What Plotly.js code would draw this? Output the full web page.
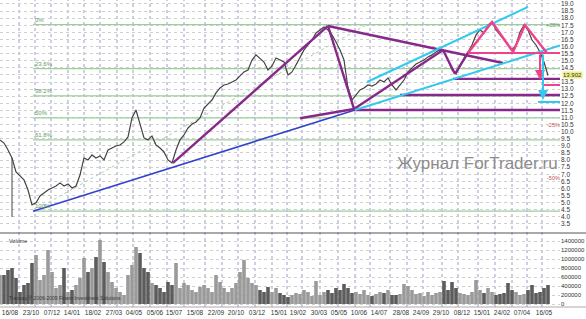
<!DOCTYPE html>
<html><head><meta charset="utf-8">
<script src="https://cdn.plot.ly/plotly-3.0.1.min.js"></script>
<style>html,body{margin:0;padding:0;background:#fff}#chart{width:586px;height:319px}</style>
</head><body><div id="chart"></div>
<script>
// ---- data ----
const closes = [9.42,9.20,8.71,8.15,7.16,6.88,6.60,5.89,4.84,4.98,5.47,5.68,5.89,6.03,6.17,6.39,6.17,6.32,6.03,6.17,
6.95,8.15,8.01,8.36,8.15,8.29,8.01,8.71,8.85,8.99,9.06,9.28,9.63,10.97,11.53,10.47,9.56,9.42,9.70,9.06,
8.85,8.57,8.01,7.80,8.71,9.42,9.77,10.26,10.54,10.68,10.97,11.67,11.95,12.23,12.73,13.08,13.29,13.36,13.50,13.64,
13.93,14.21,14.35,15.05,15.41,15.19,14.91,14.35,14.63,15.19,15.05,14.91,14.00,14.21,14.70,15.19,15.76,16.11,16.46,16.96,
17.17,17.38,17.17,16.82,16.32,15.76,15.05,13.08,12.23,12.59,12.94,13.08,13.29,13.22,13.36,13.64,13.50,13.79,13.29,12.94,
13.29,13.64,14.21,14.49,14.77,14.91,15.05,15.27,15.41,15.62,15.76,15.62,15.05,14.35,14.07,14.63,15.19,15.62,16.11,16.82,
17.17,16.96,17.52,17.73,17.17,16.82,16.46,16.11,15.76,16.11,17.03,17.52,17.17,16.46,16.11,15.62,14.91,13.96];
const volumesK = [644,644,756,800,578,267,422,467,911,1089,533,644,1200,711,356,422,800,267,311,422,
578,1022,711,800,1044,1422,933,711,489,356,267,200,644,867,1267,1133,800,711,467,422,
356,267,489,422,911,356,467,422,311,267,378,422,356,267,644,489,356,267,356,467,
711,978,578,467,422,311,267,378,267,356,244,200,156,200,244,222,311,267,178,511,
200,267,311,244,356,311,444,356,244,267,222,311,200,178,222,267,244,311,200,200,
222,444,400,311,222,244,178,267,200,244,267,511,311,489,356,244,222,200,267,533,
311,244,356,267,200,222,244,467,311,267,200,222,311,422,244,267,356,422];
const spikeBar = {day: 12, close: 8.15, low: 3.99};
const dateLabels = ["16/08","23/10","07/12","14/01","18/02","27/03","04/05","05/06","15/07","15/08","22/09","20/10","03/12","15/01",
"19/02","30/03","05/05","10/06","14/07","28/08","24/09","29/10","08/12","15/01","24/02","07/04","16/05"];
const dateLabelDays = [10,31,52,72,93,114,134,155,174,195,216,236,257,279,298,319,339,359,379,401,421,441,462,482,502,522,544];
const monthLineDays = [19,35,51,68,84,100,117,133,150,167,184,205,222,238,255,272,287,302,320,338,355,370,390,407,423,442,458,478,495,512,527,542];
const priceTickMin = 3.5, priceTickMax = 19.0, priceTickStep = 0.5, hiddenPriceTick = 14.0;
const fibHigh = 17.55, fibLow = 4.40;
const fibLevels = [0, 23.6, 38.2, 50, 61.8, 100];
const fibNames = ["0%","23.6%","38.2%","50%","61.8%","100%"];
const purpleSegs = [[173,7.80,328,17.45],[328,17.45,354,11.60],[328,17.45,503,14.84],[354,11.60,443,15.76],
  [443,15.76,455,14.07],[455,14.07,468,15.55],[300,10.95,354,11.60],[453,13.72,560,13.72],[400,12.59,560,12.59],[354,11.53,560,11.53]];
const pinkPath = {x:[468,492,513,525,547], y:[15.55,17.73,15.62,17.52,15.55]};
const pinkSegs = [[468,15.55,560,15.55],[543,13.29,560,13.29]];
const cyanSegs = [[355,11.53,560,16.07],[367,13.50,528,18.79],[538,12.09,560,12.09]];
const blueSeg = [33,4.40,355,11.53];
const fibTrend = [33,4.40,367,17.55];
const lastPrice = 13.96, lastPriceText = "13.902";

// ---- build ----
const days = closes.map((_, i) => i * 4);
const traces = [];
const seg = (s, color, width, dash) => ({type:'scatter', mode:'lines', x:[s[0],s[2]], y:[s[1],s[3]],
  line:{color:color, width:width, dash:dash||'solid'}, hoverinfo:'skip', showlegend:false, xaxis:'x', yaxis:'y'});
fibLevels.forEach(l => {
  const v = fibHigh - (fibHigh - fibLow) * l / 100;
  traces.push(seg([33, v, 560, v], '#9fcb9f', 1.2));
});
traces.push(seg(fibTrend, '#a8d0a8', 1, 'dot'));
traces.push({type:'scatter', mode:'lines', x:days, y:closes, line:{color:'#444', width:1.2},
  hoverinfo:'skip', showlegend:false});
traces.push({type:'scatter', mode:'lines', x:[spikeBar.day, spikeBar.day], y:[spikeBar.close, spikeBar.low],
  line:{color:'#444', width:1}, hoverinfo:'skip', showlegend:false});
traces.push(seg(blueSeg, '#3443cc', 1.6));
purpleSegs.forEach(s => traces.push(seg(s, '#87298a', 2.4)));
cyanSegs.forEach(s => traces.push(seg(s, '#33c8ee', 2)));
traces.push({type:'scatter', mode:'lines', x:pinkPath.x, y:pinkPath.y, line:{color:'#f0418c', width:2.4},
  hoverinfo:'skip', showlegend:false});
pinkSegs.forEach(s => traces.push(seg(s, '#f0418c', 2)));
const volColors = closes.map((c, i) => (i > 0 && c < closes[i-1]) ? '#5c5c5c' : '#9a9a9a');
traces.push({type:'bar', x:days, y:volumesK.map(v => v * 1000), xaxis:'x', yaxis:'y2',
  marker:{color:volColors, line:{width:0}}, hoverinfo:'skip', showlegend:false});

// price ticks (the 14.0 label is covered by the last-price box in the reference)
const pTickVals = [], pTickText = [];
for (let v = priceTickMin; v <= priceTickMax + 1e-9; v += priceTickStep) {
  pTickVals.push(v);
  pTickText.push(Math.abs(v - hiddenPriceTick) < 1e-9 ? '' : v.toFixed(1));
}

const shapes = monthLineDays.map(d => ({type:'line', xref:'x', yref:'paper', x0:d, x1:d, y0:0, y1:1,
  line:{color:'#9d9dc4', width:1, dash:'dot'}, layer:'below'}));
shapes.push({type:'line', xref:'paper', yref:'paper', x0:0, x1:586/560, y0:74/307, y1:74/307, line:{color:'#555', width:1}});
shapes.push({type:'line', xref:'paper', yref:'paper', x0:0, x1:586/560, y0:0, y1:0, line:{color:'#aaa', width:1}});

const ann = [];
fibLevels.forEach((l, i) => {
  const v = fibHigh - (fibHigh - fibLow) * l / 100;
  ann.push({x:33, y:v, xref:'x', yref:'y', text:fibNames[i], showarrow:false, xanchor:'left', yanchor:'bottom',
    font:{size:6, color:'#5f9a5f', family:'Liberation Sans'}});
});
ann.push({x:540, y:13.64, ax:540, ay:15.55, axref:'x', ayref:'y', xref:'x', yref:'y', text:'', showarrow:true,
  arrowhead:2, arrowsize:1, arrowwidth:2, arrowcolor:'#f0418c'});
ann.push({x:543, y:12.23, ax:543, ay:15.55, axref:'x', ayref:'y', xref:'x', yref:'y', text:'', showarrow:true,
  arrowhead:2, arrowsize:1, arrowwidth:2, arrowcolor:'#33c8ee'});
ann.push({x:477, y:7.75, xref:'x', yref:'y', text:'Журнал ForTrader.ru', showarrow:false,
  font:{size:17, color:'#8c8c8c', family:'Liberation Sans'}});
ann.push({x:553, y:17.5, xref:'x', yref:'y', text:'+25%', showarrow:false, xanchor:'center',
  font:{size:5.5, color:'#5f9a5f', family:'Liberation Sans'}});
ann.push({x:553, y:10.5, xref:'x', yref:'y', text:'-25%', showarrow:false, xanchor:'center',
  font:{size:5.5, color:'#c05050', family:'Liberation Sans'}});
ann.push({x:553, y:7.1, xref:'x', yref:'y', text:'-50%', showarrow:false, xanchor:'center', yanchor:'top',
  font:{size:5.5, color:'#c05050', family:'Liberation Sans'}});
ann.push({x:1.003, y:lastPrice, xref:'paper', yref:'y', text:lastPriceText, showarrow:false, xanchor:'left',
  bgcolor:'#eeee88', borderpad:0, font:{size:6, color:'#333', family:'Liberation Sans'}});
ann.push({x:0.012, y:0.232, xref:'paper', yref:'paper', text:'Volume', showarrow:false, xanchor:'left', yanchor:'top',
  font:{size:5.5, color:'#333', family:'Liberation Sans'}});
ann.push({x:0.012, y:0.012, xref:'paper', yref:'paper', text:'Transaq ® 2006-2009 Finam Investment Solutions', showarrow:false,
  xanchor:'left', yanchor:'bottom', font:{size:5, color:'#333', family:'Liberation Sans'}});

const layout = {
  width:586, height:319, margin:{l:0, r:26, t:0, b:12, pad:0},
  paper_bgcolor:'#fff', plot_bgcolor:'#fff', showlegend:false, bargap:0.1,
  xaxis:{range:[0,560], anchor:'y2', tickvals:dateLabelDays, ticktext:dateLabels, showgrid:false, zeroline:false,
    ticks:'', tickfont:{size:6.5, color:'#333', family:'Liberation Sans'}, fixedrange:true},
  yaxis:{domain:[75/307, 1], range:[2.93, 19.28], side:'right', tickmode:'array', tickvals:pTickVals, ticktext:pTickText,
    showgrid:true, gridcolor:'#cfcfcf', griddash:'dot', zeroline:false, ticks:'',
    tickfont:{size:6.5, color:'#333', family:'Liberation Sans'}},
  yaxis2:{domain:[0, 74/307], range:[-66667, 1577778], side:'right', dtick:200000, tick0:0, tickformat:'d',
    showgrid:true, gridcolor:'#cfcfcf', griddash:'dot', zeroline:false, ticks:'',
    tickfont:{size:6, color:'#333', family:'Liberation Sans'}},
  shapes:shapes, annotations:ann
};
Plotly.newPlot('chart', traces, layout, {staticPlot:true, displayModeBar:false});
</script></body></html>
